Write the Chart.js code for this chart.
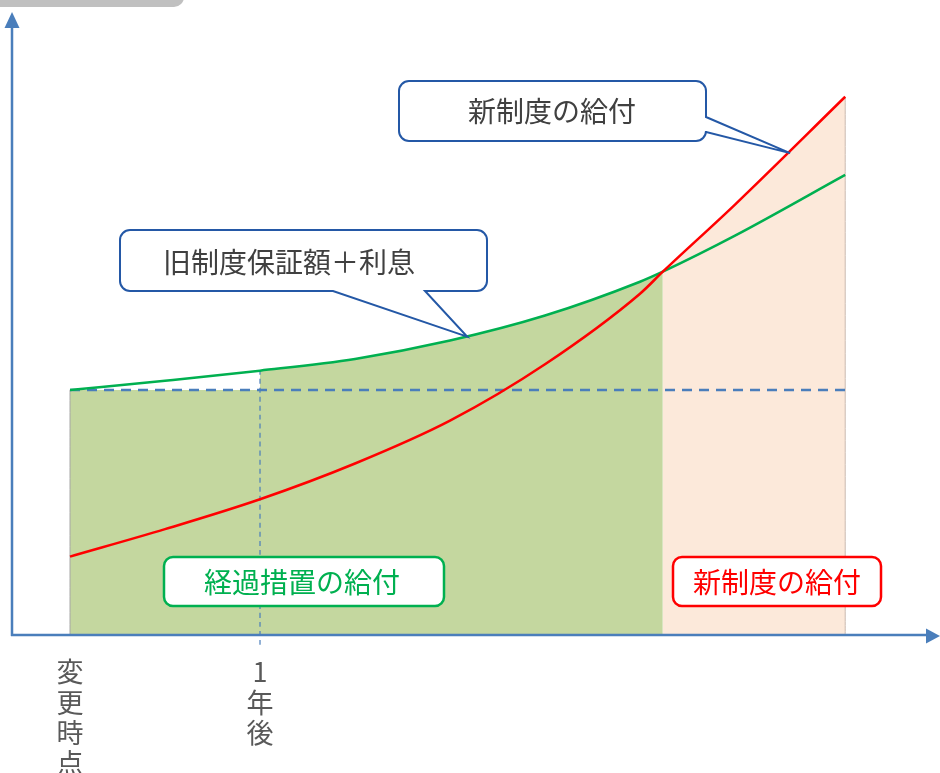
<!DOCTYPE html>
<html lang="ja">
<head>
<meta charset="utf-8">
<title>経過措置の給付</title>
<script src="https://cdn.jsdelivr.net/npm/chart.js@4.4.0/dist/chart.umd.min.js"></script>
<style>
  html, body { margin:0; padding:0; background:#fff; }
  #wrap { position:relative; width:940px; height:773px; }
</style>
</head>
<body>
<div id="wrap"><canvas id="chart"></canvas></div>
<script>
/* values
   x: years since the change, y: old guaranteed amount = 100 */
var years      = [0, 0.5, 1, 1.5, 2, 2.5, 3, 3.12, 3.5, 4.08];
var oldPlusInt = [100, 103.8, 107.9, 112.7, 120.2, 130.4, 144.2, 148.3, 163.0, 187.8];
var newBenefit = [32.0, 43.2, 55.4, 70.0, 87.5, 110.5, 139.3, 148.3, 175.7, 219.7];
var guarantee  = 100;
var oneYear    = 1;
var crossYear  = 3.12;
var endYear    = 4.08;
var tickValues = [0, 1];
var tickLabels = [['変','更','時','点'], ['1','年','後']];
var oldTip     = [2.09, 121.8];   // callout pointer on the green curve
var newTip     = [3.79, 196.7];   // callout pointer on the red curve

var FONT = '"Noto Sans CJK JP", "Noto Sans", sans-serif';
var AXIS = '#4a7ebb';

function pts(xs, ys, from, to) {
  return xs.map(function(x, i){ return { x:x, y:ys[i] }; })
           .filter(function(p){ return p.x >= from && p.x <= to; });
}

/* rounded box, optional pointer: {side:'right'|'bottom', a, b, tx, ty} */
function bubble(ctx, l, t, r, b, rad, ptr) {
  ctx.beginPath();
  ctx.moveTo(l + rad, t);
  ctx.lineTo(r - rad, t);
  ctx.arcTo(r, t, r, t + rad, rad);
  if (ptr && ptr.side === 'right') {
    ctx.lineTo(r, ptr.a);
    ctx.lineTo(ptr.tx, ptr.ty);
    ctx.lineTo(r, ptr.b);
  }
  ctx.lineTo(r, b - rad);
  ctx.arcTo(r, b, r - rad, b, rad);
  if (ptr && ptr.side === 'bottom') {
    ctx.lineTo(ptr.a, b);
    ctx.lineTo(ptr.tx, ptr.ty);
    ctx.lineTo(ptr.b, b);
  }
  ctx.lineTo(l + rad, b);
  ctx.arcTo(l, b, l, b - rad, rad);
  ctx.lineTo(l, t + rad);
  ctx.arcTo(l, t, l + rad, t, rad);
  ctx.closePath();
}

var decor = {
  id: 'decor',
  beforeDraw: function(chart) {
    var ctx = chart.ctx;
    ctx.save();
    ctx.fillStyle = '#fff';
    ctx.fillRect(0, 0, chart.width, chart.height);
    /* grey tab at the top left */
    ctx.fillStyle = '#c0c0c0';
    bubble(ctx, -20, -20, 184, 7, 10);
    ctx.fill();
    ctx.restore();
  },
  afterDatasetsDraw: function(chart) {
    var ctx = chart.ctx, a = chart.chartArea;
    var sx = chart.scales.x, sy = chart.scales.y;
    ctx.save();

    /* axes with arrow heads */
    ctx.strokeStyle = AXIS;
    ctx.fillStyle = AXIS;
    ctx.lineWidth = 2.5;
    ctx.beginPath();
    ctx.moveTo(a.left, a.bottom + 1);
    ctx.lineTo(a.left, a.top + 14);
    ctx.moveTo(a.left - 1, a.bottom);
    ctx.lineTo(a.right - 12, a.bottom);
    ctx.stroke();
    ctx.beginPath();
    ctx.moveTo(a.left, a.top);
    ctx.lineTo(a.left - 7.5, a.top + 16);
    ctx.lineTo(a.left + 7.5, a.top + 16);
    ctx.closePath();
    ctx.fill();
    ctx.beginPath();
    ctx.moveTo(a.right + 2, a.bottom + 1);
    ctx.lineTo(a.right - 12, a.bottom - 6.5);
    ctx.lineTo(a.right - 12, a.bottom + 8.5);
    ctx.closePath();
    ctx.fill();

    ctx.textAlign = 'center';
    ctx.textBaseline = 'middle';
    ctx.font = '28px ' + FONT;

    /* callout: 新制度の給付 */
    ctx.lineWidth = 2;
    ctx.strokeStyle = '#2458a6';
    ctx.fillStyle = '#fff';
    bubble(ctx, 399, 81, 706, 141, 10, {
      side:'right', a:117, b:132,
      tx: sx.getPixelForValue(newTip[0]), ty: sy.getPixelForValue(newTip[1])
    });
    ctx.fill(); ctx.stroke();
    ctx.fillStyle = '#404040';
    ctx.fillText('新制度の給付', 552, 111);

    /* callout: 旧制度保証額＋利息 */
    ctx.fillStyle = '#fff';
    bubble(ctx, 120, 230, 487, 291, 10, {
      side:'bottom', a:425, b:333,
      tx: sx.getPixelForValue(oldTip[0]), ty: sy.getPixelForValue(oldTip[1])
    });
    ctx.fill(); ctx.stroke();
    ctx.fillStyle = '#404040';
    ctx.fillText('旧制度保証額＋利息', 289, 262);

    /* label boxes */
    ctx.lineWidth = 2.5;
    ctx.strokeStyle = '#00b050';
    ctx.fillStyle = '#fff';
    bubble(ctx, 164, 557, 444, 606, 9);
    ctx.fill(); ctx.stroke();
    ctx.fillStyle = '#00b050';
    ctx.fillText('経過措置の給付', 302, 582);

    ctx.strokeStyle = '#ff0000';
    ctx.fillStyle = '#fff';
    bubble(ctx, 673, 557, 881, 606, 9);
    ctx.fill(); ctx.stroke();
    ctx.fillStyle = '#ff0000';
    ctx.fillText('新制度の給付', 777, 582);

    ctx.restore();
  }
};

var yearOneTop = oldPlusInt[years.indexOf(oneYear)];

var datasets = [
  { label:'新制度の給付', data: pts(years, newBenefit, 0, endYear),
    borderColor:'#ff0000', borderWidth:2.5, order:0 },
  { label:'旧制度保証額＋利息', data: pts(years, oldPlusInt, 0, endYear),
    borderColor:'#00b050', borderWidth:2.5, order:1 },
  { label:'保証額', data: [{x:0, y:guarantee}, {x:endYear, y:guarantee}],
    borderColor:AXIS, borderWidth:2.5, borderDash:[10, 7], order:2 },
  { label:'1年後', data: [{x:oneYear, y:-4}, {x:oneYear, y:yearOneTop}],
    borderColor:AXIS, borderWidth:1.2, borderDash:[5, 4], order:2, clip:false },
  { label:'edge-left', data: [{x:0, y:0}, {x:0, y:guarantee}],
    borderColor:'#a6a6a6', borderWidth:1, order:4 },
  { label:'edge-right', data: [{x:endYear, y:0}, {x:endYear, y:newBenefit[newBenefit.length - 1]}],
    borderColor:'#c9b9ad', borderWidth:1, order:4 },
  { label:'fill-flat', data: [{x:0, y:guarantee}, {x:oneYear, y:guarantee}],
    borderWidth:0, backgroundColor:'#c4d79f', fill:'origin', order:10 },
  { label:'fill-old', data: pts(years, oldPlusInt, oneYear, crossYear),
    borderWidth:0, backgroundColor:'#c4d79f', fill:'origin', order:10 },
  { label:'fill-new', data: pts(years, newBenefit, crossYear, endYear),
    borderWidth:0, backgroundColor:'#fce9da', fill:'origin', order:10 }
];
datasets.forEach(function(d) {
  d.pointRadius = 0;
  d.cubicInterpolationMode = 'monotone';
  if (d.fill === undefined) d.fill = false;
});

new Chart(document.getElementById('chart'), {
  type: 'line',
  data: { datasets: datasets },
  options: {
    responsive: true, maintainAspectRatio: false,
    animation: false,
    layout: { padding: { top:12, left:12, right:2, bottom:0 } },
    plugins: { legend:{display:false}, tooltip:{enabled:false} },
    scales: {
      x: {
        type: 'linear', min: -0.3053, max: 4.5684,
        grid: { display:false }, border: { display:false },
        afterBuildTicks: function(s){ s.ticks = tickValues.map(function(v){ return {value:v}; }); },
        afterFit: function(s){ s.height = 138; },
        ticks: {
          autoSkip:false, maxRotation:0, padding:14,
          color:'#595959', font:{ family:FONT, size:27, lineHeight:1.12 },
          callback: function(v){ var i = tickValues.indexOf(v); return i >= 0 ? tickLabels[i] : ''; }
        }
      },
      y: { display:false, min:0, max:254.3 }
    }
  },
  plugins: [decor]
});
</script>
</body>
</html>
